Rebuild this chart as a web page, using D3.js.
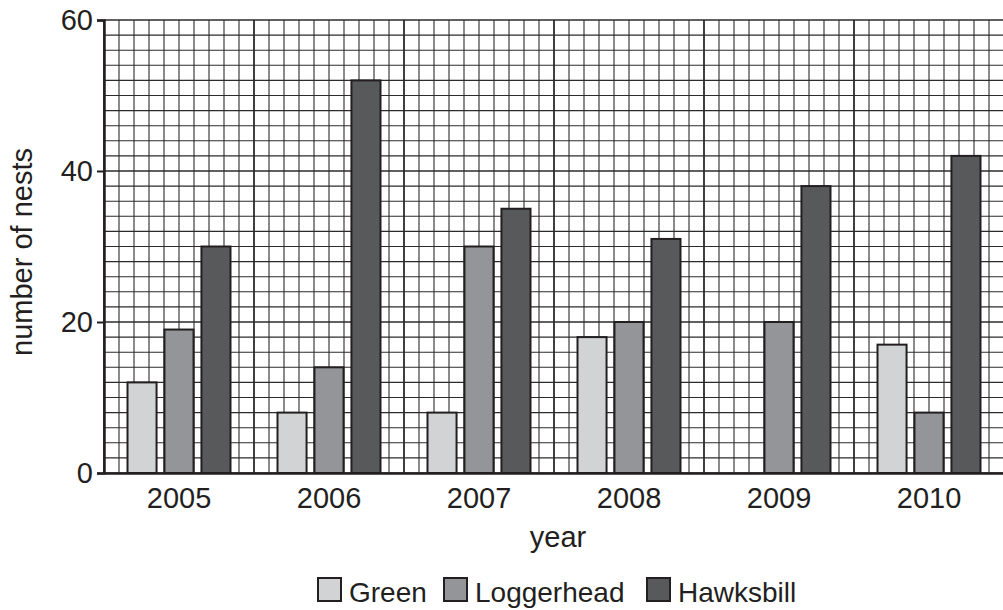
<!DOCTYPE html>
<meta charset="utf-8">
<head>
<style>
  body { margin: 0; background: #fff; }
  text { font-family: "Liberation Sans", Arial, sans-serif; fill: #231f20; }
</style>
</head>
<script src="https://d3js.org/d3.v7.min.js"></script>
<div id="my_dataviz"></div>
<script>

// data
var years = ["2005", "2006", "2007", "2008", "2009", "2010"];
var species = ["Green", "Loggerhead", "Hawksbill"];
var green = [12, 8, 8, 18, 0, 17];
var loggerhead = [19, 14, 30, 20, 20, 8];
var hawksbill = [30, 52, 35, 31, 38, 42];
var yTicks = [0, 20, 40, 60];

var colors = {Green: "#d1d3d4", Loggerhead: "#939598", Hawksbill: "#58595b"};
var series = {Green: green, Loggerhead: loggerhead, Hawksbill: hawksbill};

var W = 1003, H = 610;
var margin = {top: 20, left: 104},
    width = 900,
    height = 453;

var svg = d3.select("#my_dataviz")
  .append("svg")
    .attr("width", W)
    .attr("height", H)
  .append("g")
    .attr("transform", "translate(" + margin.left + "," + margin.top + ")");

var x = d3.scaleBand().domain(years).range([0, width]).padding(0);
var xs = d3.scaleBand().domain(species).range([22.5, 127.5]).paddingInner(0.16);
var y = d3.scaleLinear().domain([0, 60]).range([height, 0]);

// graph paper grid
var gx = d3.scaleLinear().domain([0, 60]).range([0, width]);
var grid = svg.append("g");
grid.selectAll(".vline")
  .data(d3.range(0, 61, 1))
  .enter().append("line")
    .attr("x1", function(d) { return gx(d); })
    .attr("x2", function(d) { return gx(d); })
    .attr("y1", 0).attr("y2", height)
    .attr("stroke", "#2b2b2b")
    .attr("stroke-width", function(d) { return d % 10 == 0 ? 1.8 : 1.1; });
grid.selectAll(".hline")
  .data(d3.range(0, 61, 2))
  .enter().append("line")
    .attr("x1", 0).attr("x2", width)
    .attr("y1", function(d) { return y(d); })
    .attr("y2", function(d) { return y(d); })
    .attr("stroke", "#2b2b2b")
    .attr("stroke-width", function(d) { return d % 20 == 0 ? 1.6 : 1.1; });

// bars
years.forEach(function(yr, i) {
  species.forEach(function(s) {
    var v = series[s][i];
    if (!v) return;
    svg.append("rect")
      .attr("x", x(yr) + xs(s) + 1)
      .attr("y", y(v))
      .attr("width", xs.bandwidth() - 2)
      .attr("height", height - y(v))
      .attr("fill", colors[s])
      .attr("stroke", "#231f20")
      .attr("stroke-width", 2);
  });
});

// axes
var yAxis = svg.append("g")
  .call(d3.axisLeft(y).tickValues(yTicks).tickSize(7).tickPadding(4));
yAxis.select(".domain").attr("stroke", "#231f20").attr("stroke-width", 2.5);
yAxis.selectAll(".tick line").attr("stroke", "#231f20").attr("stroke-width", 2);
yAxis.selectAll(".tick text").style("font-size", "29px").attr("fill", "#231f20")
  .style("font-family", "Liberation Sans, Arial, sans-serif");

var xAxis = svg.append("g")
  .attr("transform", "translate(0," + height + ")")
  .call(d3.axisBottom(x).tickSize(0).tickPadding(14).tickSizeOuter(0));
xAxis.select(".domain").attr("stroke", "#231f20").attr("stroke-width", 2.5);
xAxis.selectAll(".tick text").style("font-size", "29px").attr("fill", "#231f20")
  .style("font-family", "Liberation Sans, Arial, sans-serif");

// axis titles
svg.append("text")
  .attr("x", 558 - margin.left)
  .attr("y", 547 - margin.top)
  .attr("text-anchor", "middle")
  .style("font-size", "29px")
  .text("year");

svg.append("text")
  .attr("transform", "translate(" + (32 - margin.left) + "," + (252 - margin.top) + ") rotate(-90)")
  .attr("text-anchor", "middle")
  .style("font-size", "29px")
  .text("number of nests");

// legend
var legendX = [317, 443, 646];
var legend = svg.append("g")
  .attr("transform", "translate(" + (-margin.left) + "," + (602 - margin.top) + ")");
species.forEach(function(s, i) {
  legend.append("rect")
    .attr("x", legendX[i] + 1).attr("y", -24)
    .attr("width", 23).attr("height", 23)
    .attr("fill", colors[s])
    .attr("stroke", "#231f20")
    .attr("stroke-width", 2);
  legend.append("text")
    .attr("x", legendX[i] + 32).attr("y", 0)
    .style("font-size", "28px")
    .text(s);
});

</script>
